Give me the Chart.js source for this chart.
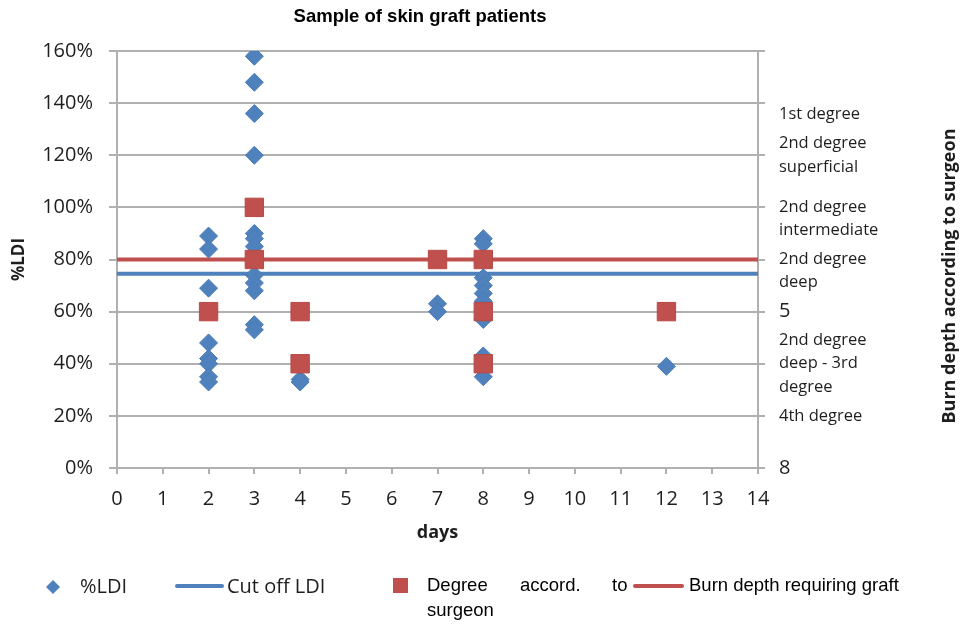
<!DOCTYPE html>
<html>
<head>
<meta charset="utf-8">
<script src="https://cdn.jsdelivr.net/npm/chart.js@4.4.0/dist/chart.umd.min.js"></script>
<style>
  html, body { margin: 0; padding: 0; background: #fff; }
  #wrap { width: 960px; height: 625px; }
</style>
</head>
<body>
<div id="wrap"><canvas id="chart" width="960" height="625"></canvas></div>
<script>
// %LDI per patient: day after burn and value (%)
const ldiDays   = [2, 2, 2, 2, 2, 2, 2, 2,
                   3, 3, 3, 3, 3, 3, 3, 3, 3, 3, 3, 3, 3,
                   4, 4, 7, 7,
                   8, 8, 8, 8, 8, 8, 8, 8, 8, 8,
                   12];
const ldiValues = [89, 84, 69, 48, 42, 40, 35, 33,
                   158, 148, 136, 120, 90, 88, 85, 80, 74, 71, 68, 55, 53,
                   34, 33, 63, 60,
                   88, 86, 80, 73, 70, 67, 64, 57, 43, 35,
                   39];

// burn depth given by the surgeon (right axis)
const surgeonDays   = [2, 3, 3, 4, 4, 7, 8, 8, 8, 12];
const surgeonDegree = [5, 3, 4, 5, 6, 4, 4, 5, 6, 5];

// leading '' just nudges a label down a bit like the original
const depthLabels = ['', ['', '1st degree'], ['2nd degree', 'superficial'], ['', '2nd degree', 'intermediate'],
                     ['', '2nd degree', 'deep'], '5', ['2nd degree', 'deep - 3rd', 'degree'], '4th degree', '8'];

const cutOffLDI = 74.5;   // %
const graftDepth = 4;     // right axis
const dayRange = [0, 14];

const blue = '#4F81BD';
const red = '#C0504D';
const gridColor = '#b0b0b0';
const textColor = '#1e1e1e';

// title, right axis title and legend are drawn by hand
const extras = {
  id: 'extras',
  afterDraw(chart) {
    const ctx = chart.ctx;
    ctx.save();
    ctx.textBaseline = 'middle';

    ctx.fillStyle = '#000';
    ctx.textAlign = 'center';
    ctx.font = 'bold 18.5px "Liberation Sans", Arial, sans-serif';
    ctx.fillText('Sample of skin graft patients', 420, 17);

    ctx.save();
    ctx.translate(950, 276);
    ctx.rotate(-Math.PI / 2);
    ctx.fillStyle = textColor;
    ctx.font = 'bold 18px "Open Sans", sans-serif';
    ctx.fillText('Burn depth according to surgeon', 0, 0);
    ctx.restore();

    // legend
    ctx.textAlign = 'left';
    ctx.fillStyle = blue;
    ctx.beginPath();
    ctx.moveTo(53, 580); ctx.lineTo(60, 587); ctx.lineTo(53, 594); ctx.lineTo(46, 587);
    ctx.closePath();
    ctx.fill();

    ctx.fillStyle = textColor;
    ctx.font = '20px "Open Sans", sans-serif';
    ctx.fillText('%LDI', 80, 587);

    ctx.lineCap = 'round';
    ctx.lineWidth = 4;
    ctx.strokeStyle = blue;
    ctx.beginPath(); ctx.moveTo(177, 586); ctx.lineTo(222, 586); ctx.stroke();
    ctx.fillText('Cut off LDI', 227, 587);

    ctx.fillStyle = red;
    ctx.fillRect(393, 578, 15, 15);
    ctx.strokeStyle = red;
    ctx.beginPath(); ctx.moveTo(635, 586); ctx.lineTo(682, 586); ctx.stroke();

    ctx.fillStyle = '#000';
    ctx.font = '18.5px "Liberation Sans", Arial, sans-serif';
    ctx.fillText('Degree', 427, 586);
    ctx.fillText('accord.', 520, 586);
    ctx.fillText('to', 612, 586);
    ctx.fillText('Burn depth requiring graft', 689, 586);
    ctx.fillText('surgeon', 427, 611);
    ctx.restore();
  }
};

const ldiPoints = ldiDays.map((d, i) => ({ x: d, y: ldiValues[i] }));
const surgeonPoints = surgeonDays.map((d, i) => ({ x: d, y: surgeonDegree[i] }));

// "5" and "8" on the right axis are a bit bigger than the worded labels
function depthFont(c) {
  const lbl = c.tick ? depthLabels[c.tick.value] : null;
  const big = typeof lbl === 'string' && lbl.length === 1;
  return { family: 'Open Sans', size: big ? 20 : 16.5, lineHeight: 1.4 };
}

new Chart(document.getElementById('chart'), {
  type: 'scatter',
  data: {
    datasets: [
      {
        label: 'Degree accord. to surgeon',
        data: surgeonPoints,
        yAxisID: 'y2',
        pointStyle: 'rect',
        pointRadius: 13,
        backgroundColor: red,
        borderColor: '#b84a47',
        borderWidth: 1,
        order: 0
      },
      {
        label: '%LDI',
        data: ldiPoints,
        yAxisID: 'y',
        pointStyle: 'rectRot',
        pointRadius: 9,
        backgroundColor: blue,
        borderColor: '#4a7bb7',
        borderWidth: 1,
        order: 1
      },
      {
        label: 'Burn depth requiring graft',
        data: dayRange.map(d => ({ x: d, y: graftDepth })),
        yAxisID: 'y2',
        showLine: true,
        borderColor: red,
        borderWidth: 4,
        pointRadius: 0,
        order: 2
      },
      {
        label: 'Cut off LDI',
        data: dayRange.map(d => ({ x: d, y: cutOffLDI })),
        yAxisID: 'y',
        showLine: true,
        borderColor: blue,
        borderWidth: 4,
        pointRadius: 0,
        order: 3
      }
    ]
  },
  options: {
    responsive: false,
    animation: false,
    layout: { padding: { top: 51, right: 0, bottom: 77, left: 0 } },
    plugins: {
      legend: { display: false },
      title: { display: false },
      tooltip: { enabled: false }
    },
    scales: {
      x: {
        type: 'linear',
        min: 0,
        max: 14,
        ticks: { stepSize: 1, padding: 13, color: textColor, font: { family: 'Open Sans', size: 20 } },
        grid: { drawOnChartArea: false, drawTicks: true, tickLength: 6, color: gridColor, lineWidth: 2 },
        border: { color: gridColor, width: 2 },
        title: {
          display: true, text: 'days', color: textColor,
          font: { family: 'Open Sans', size: 18, weight: 'bold' },
          padding: { top: 0, bottom: 4 }
        },
        afterFit(s) { s.height = 80; }
      },
      y: {
        position: 'left',
        min: 0,
        max: 160,
        ticks: {
          stepSize: 20, padding: 16, color: textColor,
          font: { family: 'Open Sans', size: 20 },
          callback: v => v + '%'
        },
        grid: { drawTicks: true, tickLength: 8, color: gridColor, lineWidth: 2 },
        border: { color: gridColor, width: 2 },
        title: {
          display: true, text: '%LDI', color: textColor,
          font: { family: 'Open Sans', size: 17, weight: 'bold' },
          padding: { top: 9, bottom: 0 }
        },
        afterFit(s) { s.width = 117; }
      },
      y2: {
        position: 'right',
        min: 0,
        max: 8,
        reverse: true,
        ticks: {
          stepSize: 1, padding: 14, color: textColor, autoSkip: false,
          font: depthFont,
          callback: v => depthLabels[v]
        },
        grid: { drawOnChartArea: false, drawTicks: true, tickLength: 7, color: gridColor, lineWidth: 2 },
        border: { color: gridColor, width: 2 },
        afterFit(s) { s.width = 202; }
      }
    }
  },
  plugins: [extras]
});
</script>
</body>
</html>
